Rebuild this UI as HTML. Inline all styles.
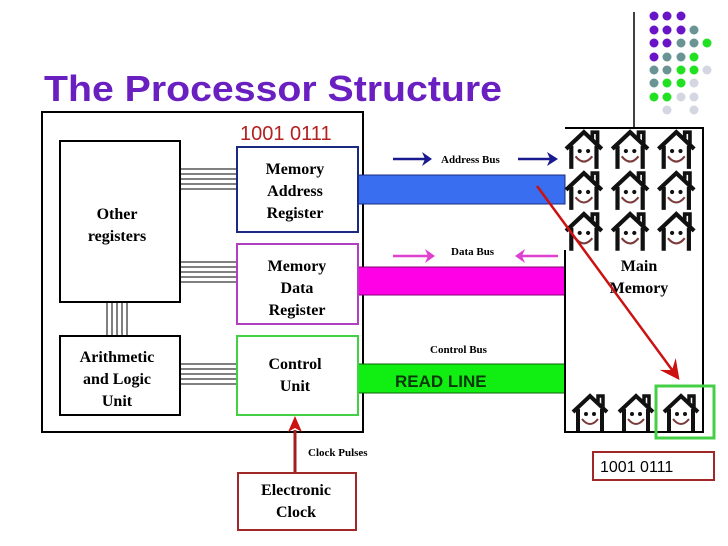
<!DOCTYPE html>
<html><head><style>
body{margin:0;background:#fff;width:728px;height:546px;overflow:hidden}
svg{display:block}
text{font-family:"Liberation Serif",serif;font-weight:bold}
</style></head><body>
<svg width="728" height="546" viewBox="0 0 728 546" xmlns="http://www.w3.org/2000/svg">
<defs>
<g id="h">
<path d="M1,19 L18,3 L35,19" fill="none" stroke="#111" stroke-width="4"/>
<path d="M6,16 V38 M30,16 V38" stroke="#111" stroke-width="4"/>
<path d="M26,9 V3 H31 V14" fill="none" stroke="#111" stroke-width="3.5"/>
<circle cx="14" cy="21" r="2" fill="#111"/><circle cx="22" cy="21" r="2" fill="#111"/>
<path d="M10,26 Q18,36 26,26" fill="none" stroke="#7a3b3b" stroke-width="2"/>
</g>
<marker id="ar" markerWidth="8" markerHeight="8" refX="7" refY="4" orient="auto"><path d="M0,0 L8,4 L0,8 L3,4z" fill="#cc1111"/></marker>
</defs>
<line x1="634" y1="12" x2="634" y2="128" stroke="#000" stroke-width="1.5"/>
<g>
<circle cx="654" cy="16" r="4.5" fill="#6a14c8"/><circle cx="667" cy="16" r="4.5" fill="#6a14c8"/><circle cx="681" cy="16" r="4.5" fill="#6a14c8"/>
<circle cx="654" cy="30" r="4.5" fill="#6a14c8"/><circle cx="667" cy="30" r="4.5" fill="#6a14c8"/><circle cx="681" cy="30" r="4.5" fill="#6a14c8"/><circle cx="694" cy="30" r="4.5" fill="#6a9494"/>
<circle cx="654" cy="43" r="4.5" fill="#6a14c8"/><circle cx="667" cy="43" r="4.5" fill="#6a14c8"/><circle cx="681" cy="43" r="4.5" fill="#6a9494"/><circle cx="694" cy="43" r="4.5" fill="#6a9494"/><circle cx="707" cy="43" r="4.5" fill="#22e022"/>
<circle cx="654" cy="57" r="4.5" fill="#6a14c8"/><circle cx="667" cy="57" r="4.5" fill="#6a9494"/><circle cx="681" cy="57" r="4.5" fill="#6a9494"/><circle cx="694" cy="57" r="4.5" fill="#22e022"/>
<circle cx="654" cy="70" r="4.5" fill="#6a9494"/><circle cx="667" cy="70" r="4.5" fill="#6a9494"/><circle cx="681" cy="70" r="4.5" fill="#22e022"/><circle cx="694" cy="70" r="4.5" fill="#22e022"/><circle cx="707" cy="70" r="4.5" fill="#d4d6e2"/>
<circle cx="654" cy="83" r="4.5" fill="#6a9494"/><circle cx="667" cy="83" r="4.5" fill="#22e022"/><circle cx="681" cy="83" r="4.5" fill="#22e022"/><circle cx="694" cy="83" r="4.5" fill="#d4d6e2"/>
<circle cx="654" cy="97" r="4.5" fill="#22e022"/><circle cx="667" cy="97" r="4.5" fill="#22e022"/><circle cx="681" cy="97" r="4.5" fill="#d4d6e2"/><circle cx="694" cy="97" r="4.5" fill="#d4d6e2"/>
<circle cx="667" cy="110" r="4.5" fill="#d4d6e2"/><circle cx="694" cy="110" r="4.5" fill="#d4d6e2"/>
</g>
<text x="44" y="101" font-size="36" fill="#6a1fc0" textLength="458" lengthAdjust="spacingAndGlyphs" style="font-family:'Liberation Sans',sans-serif">The Processor Structure</text>
<rect x="42" y="112" width="321" height="320" fill="none" stroke="#000" stroke-width="2"/>
<text x="240" y="140" font-size="20" fill="#b52020" style="font-family:'Liberation Sans',sans-serif;font-weight:normal">1001 0111</text>
<rect x="358" y="175" width="207" height="29" fill="#3a6ef0" stroke="#1a2a80" stroke-width="1"/>
<rect x="358" y="267" width="207" height="28" fill="#ff00e6" stroke="#800070" stroke-width="1"/>
<rect x="358" y="364" width="207" height="29" fill="#11ee11" stroke="#0a600a" stroke-width="1"/>
<text x="395" y="387" font-size="17" fill="#0a3a0a" style="font-family:'Liberation Sans',sans-serif">READ LINE</text>
<g stroke="#000" stroke-width="1">
<path d="M180,169H237M180,174H237M180,179H237M180,184H237M180,189H237"/>
<path d="M180,262H237M180,267H237M180,272H237M180,277H237M180,282H237"/>
<path d="M180,364H237M180,369H237M180,374H237M180,379H237M180,384H237"/>
<path d="M107,302V336M112,302V336M117,302V336M122,302V336M127,302V336"/>
</g>
<rect x="60" y="141" width="120" height="161" fill="#fff" stroke="#000" stroke-width="2"/>
<text x="117" y="219" font-size="16" text-anchor="middle">Other</text>
<text x="117" y="241" font-size="16" text-anchor="middle">registers</text>
<rect x="60" y="336" width="120" height="79" fill="#fff" stroke="#000" stroke-width="2"/>
<text x="117" y="362" font-size="16" text-anchor="middle">Arithmetic</text>
<text x="117" y="384" font-size="16" text-anchor="middle">and Logic</text>
<text x="117" y="406" font-size="16" text-anchor="middle">Unit</text>
<rect x="237" y="147" width="121" height="85" fill="#fff" stroke="#1a2a80" stroke-width="2"/>
<text x="295" y="174" font-size="16" text-anchor="middle">Memory</text>
<text x="295" y="196" font-size="16" text-anchor="middle">Address</text>
<text x="295" y="218" font-size="16" text-anchor="middle">Register</text>
<rect x="237" y="244" width="121" height="80" fill="#fff" stroke="#b040c0" stroke-width="2"/>
<text x="297" y="271" font-size="16" text-anchor="middle">Memory</text>
<text x="297" y="293" font-size="16" text-anchor="middle">Data</text>
<text x="297" y="315" font-size="16" text-anchor="middle">Register</text>
<rect x="237" y="336" width="121" height="79" fill="#fff" stroke="#44d044" stroke-width="2"/>
<text x="295" y="369" font-size="16" text-anchor="middle">Control</text>
<text x="295" y="391" font-size="16" text-anchor="middle">Unit</text>
<path d="M393,159H425" stroke="#1a1a90" stroke-width="2.5"/><path d="M422,152L432,159L422,166L425,159z" fill="#1a1a90"/>
<text x="441" y="163" font-size="11">Address Bus</text>
<path d="M518,159H550" stroke="#1a1a90" stroke-width="2.5"/><path d="M547,152L558,159L547,166L550,159z" fill="#1a1a90"/>
<path d="M393,256H428" stroke="#e040d0" stroke-width="2.5"/><path d="M425,249L435,256L425,263L428,256z" fill="#e040d0"/>
<text x="451" y="255" font-size="11">Data Bus</text>
<path d="M521,256H558" stroke="#e040d0" stroke-width="2.5"/><path d="M525,249L515,256L525,263L522,256z" fill="#e040d0"/>
<text x="430" y="353" font-size="11">Control Bus</text>
<path d="M565,128H703V432H565V250" fill="none" stroke="#000" stroke-width="2"/>
<g transform="translate(565,129) scale(1.05)"><use href="#h" x="0" y="0"/><use href="#h" x="44" y="0"/><use href="#h" x="88" y="0"/>
<use href="#h" x="0" y="39"/><use href="#h" x="44" y="39"/><use href="#h" x="88" y="39"/>
<use href="#h" x="0" y="78"/><use href="#h" x="44" y="78"/><use href="#h" x="88" y="78"/></g>
<use href="#h" x="572" y="393"/><use href="#h" x="618" y="393"/><use href="#h" x="663" y="393"/>
<text x="639" y="271" font-size="16" text-anchor="middle">Main</text>
<text x="639" y="293" font-size="16" text-anchor="middle">Memory</text>
<rect x="656" y="386" width="58" height="52" fill="none" stroke="#44d044" stroke-width="3"/>
<line x1="537" y1="186" x2="678" y2="378" stroke="#cc1111" stroke-width="2.5" marker-end="url(#ar)"/>
<rect x="593" y="452" width="121" height="28" fill="#fff" stroke="#a02828" stroke-width="2"/>
<text x="600" y="472" font-size="16" style="font-family:'Liberation Sans',sans-serif;font-weight:normal">1001 0111</text>
<line x1="295" y1="473" x2="295" y2="430" stroke="#a02020" stroke-width="3"/>
<path d="M288,432L295,416L302,432L295,428z" fill="#cc1111"/>
<text x="308" y="456" font-size="11">Clock Pulses</text>
<rect x="238" y="473" width="118" height="57" fill="#fff" stroke="#a02828" stroke-width="2"/>
<text x="296" y="495" font-size="16" text-anchor="middle">Electronic</text>
<text x="296" y="517" font-size="16" text-anchor="middle">Clock</text>
</svg>
</body></html>
